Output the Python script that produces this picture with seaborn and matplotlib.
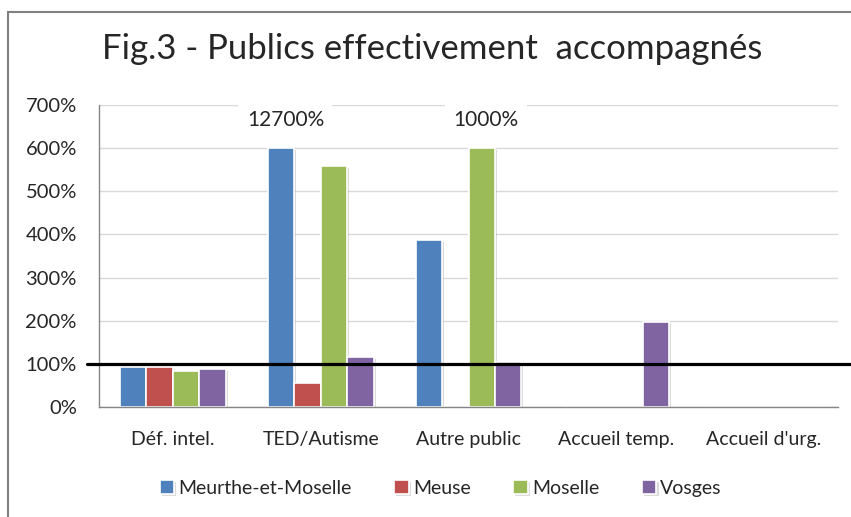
import numpy as np
import pandas as pd
import matplotlib
matplotlib.use("Agg")
import matplotlib.pyplot as plt
import matplotlib.patheffects as pe
from matplotlib.patches import Rectangle
import seaborn as sns

categories = ["Déf. intel.", "TED/Autisme", "Autre public", "Accueil temp.", "Accueil d'urg."]
departements = ["Meurthe-et-Moselle", "Meuse", "Moselle", "Vosges"]

# values in %, one list per departement (0 = no bar)
meurthe = [93, 12700, 387, 0, 0]
meuse = [93, 56, 0, 0, 0]
moselle = [83, 558, 1000, 0, 0]
vosges = [88, 116, 104, 197, 0]

# the axis stops at 700%, bars above 600% are cut and get their value written above
cap = 600
colors = ["#4F81BD", "#C0504D", "#9BBB59", "#8064A2"]

rows = []
for dep, vals in zip(departements, [meurthe, meuse, moselle, vosges]):
    for cat, v in zip(categories, vals):
        rows.append({"cat": cat, "dep": dep, "val": v, "shown": min(v, cap)})
df = pd.DataFrame(rows)

sns.set_style("white")
plt.rcParams["font.family"] = ["Lato", "DejaVu Sans"]

fig = plt.figure(figsize=(8.51, 5.17), dpi=100)
ax = fig.add_axes([99 / 851, 1 - 407 / 517, 739 / 851, 302 / 517])

bar_w = 0.716
sns.barplot(data=df, x="cat", y="shown", hue="dep", order=categories,
            hue_order=departements, palette=colors, width=bar_w,
            edgecolor="white", linewidth=1.2, saturation=1, ax=ax)

for p in ax.patches:
    p.set_path_effects([pe.SimplePatchShadow(offset=(1.5, -1.5), shadow_rgbFace="#999999", alpha=0.35),
                        pe.Normal()])

ax.set_ylim(0, 700)
ax.set_xlim(-0.5, len(categories) - 0.5)
ax.set_yticks(range(0, 701, 100))
ax.set_yticklabels([f"{t}%" for t in range(0, 701, 100)])
ax.yaxis.grid(True, color="#D9D9D9", linewidth=1)
ax.set_axisbelow(True)
ax.set_xlabel("")
ax.set_ylabel("")

ax.set_xticks(range(len(categories)))
ax.set_xticklabels(categories)
ax.set_xticks(np.arange(-0.5, len(categories)), minor=True)
ax.tick_params(axis="x", which="major", length=0, pad=17, labelsize=14)
ax.tick_params(axis="x", which="minor", length=5, width=1, color="#868686", direction="out")
ax.tick_params(axis="y", length=5, width=1, color="#868686", direction="out", pad=11, labelsize=14.5)

for side in ["top", "right"]:
    ax.spines[side].set_visible(False)
for side in ["left", "bottom"]:
    ax.spines[side].set_color("#868686")
    ax.spines[side].set_linewidth(1)

# reference line at 100%
ax.plot([-0.016, 1.018], [100, 100], transform=ax.get_yaxis_transform(),
        color="black", linewidth=2.3, clip_on=False, zorder=5)

# labels for the cut bars
n = len(departements)
step = bar_w / n
for j, vals in enumerate([meurthe, meuse, moselle, vosges]):
    for i, v in enumerate(vals):
        if v > cap:
            x = i - bar_w / 2 + step * (j + 0.5)
            ax.text(x + 0.03, 665, f"{v}%", ha="center", va="center", fontsize=15,
                    bbox=dict(facecolor="white", edgecolor="none", pad=6), zorder=4)

fig.text(0.508, 0.905, "Fig.3 - Publics effectivement  accompagnés", ha="center", va="center",
         fontsize=25)

handles, labels = ax.get_legend_handles_labels()
ax.legend_.remove()
fig.legend(handles, labels, loc="center", bbox_to_anchor=(0.518, 0.056), ncol=4,
           frameon=False, fontsize=14, handlelength=0.75, handleheight=0.75,
           handletextpad=0.2, columnspacing=2.2)

fig.patches.append(Rectangle((8 / 851, -0.1), 1.2, 1.1 - 12 / 517, transform=fig.transFigure,
                             fill=False, edgecolor="#808080", linewidth=1.5))

fig.savefig("out.png", dpi=100)
